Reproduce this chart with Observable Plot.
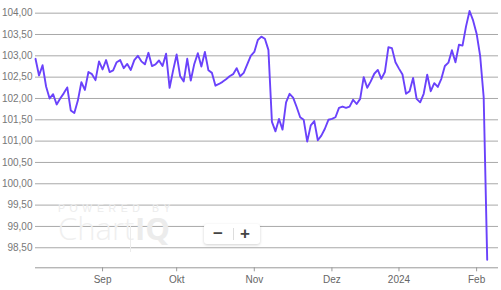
<!DOCTYPE html>
<html>
<head>
<meta charset="utf-8">
<script src="https://cdn.jsdelivr.net/npm/d3@7"></script>
<script src="https://cdn.jsdelivr.net/npm/@observablehq/plot@0.6"></script>
<style>
  html, body { margin: 0; padding: 0; background: #fff; }
  #wrap { position: relative; width: 501px; height: 290px; overflow: hidden; font-family: "Liberation Sans", Arial, sans-serif; }
  #chart { position: absolute; left: 0; top: 0; }
  .wm1 { position: absolute; left: 58px; top: 203px; font-size: 10.5px; line-height: 10px; letter-spacing: 4.6px; color: #ececec; white-space: nowrap; }
  .wm2 { position: absolute; left: 58px; top: 216px; font-size: 31px; line-height: 24px; font-weight: 300; color: #efefef; white-space: nowrap; font-family: "Open Sans", "Liberation Sans", sans-serif; }
  .wmbar { position: absolute; left: 130px; top: 226px; width: 1px; height: 26px; background: #ececec; }
  .wm3 { position: absolute; left: 135px; top: 216px; font-size: 31px; line-height: 24px; font-weight: 700; color: #ececec; white-space: nowrap; font-family: "Open Sans", "Liberation Sans", sans-serif; }
  .zoom { position: absolute; left: 204px; top: 224px; width: 56px; height: 20px; background: #fff; border-radius: 3px; box-shadow: 0 1px 3px rgba(0,0,0,0.18); }
  .zoom span { position: absolute; top: 0; font-size: 17px; font-weight: 700; color: #444; line-height: 20px; }
  .zoom .sep { position: absolute; left: 29px; top: 4px; width: 1px; height: 12px; background: #ddd; }
</style>
</head>
<body>
<div id="wrap">
  <div id="chart"></div>
  <div class="wm1">POWERED BY</div>
  <div class="wm2">Chart</div>
  <div class="wmbar"></div>
  <div class="wm3">IQ</div>
  <div class="zoom"><span style="left:9px">−</span><div class="sep"></div><span style="left:36px">+</span></div>
</div>
<script>
const dates = [
  "2023-08-07","2023-08-08","2023-08-09","2023-08-10","2023-08-11","2023-08-14","2023-08-15","2023-08-16","2023-08-17","2023-08-18",
  "2023-08-21","2023-08-22","2023-08-23","2023-08-24","2023-08-25","2023-08-28","2023-08-29","2023-08-30","2023-08-31",
  "2023-09-01","2023-09-04","2023-09-05","2023-09-06","2023-09-07","2023-09-08","2023-09-11","2023-09-12","2023-09-13","2023-09-14",
  "2023-09-15","2023-09-18","2023-09-19","2023-09-20","2023-09-21","2023-09-22","2023-09-25","2023-09-26","2023-09-27","2023-09-28","2023-09-29",
  "2023-10-02","2023-10-03","2023-10-04","2023-10-05","2023-10-06","2023-10-09","2023-10-10","2023-10-11","2023-10-12","2023-10-13",
  "2023-10-16","2023-10-17","2023-10-18","2023-10-19","2023-10-20","2023-10-23","2023-10-24","2023-10-25","2023-10-26","2023-10-27","2023-10-30","2023-10-31",
  "2023-11-01","2023-11-02","2023-11-03","2023-11-06","2023-11-07","2023-11-08","2023-11-09","2023-11-10","2023-11-13","2023-11-14",
  "2023-11-15","2023-11-16","2023-11-17","2023-11-20","2023-11-21","2023-11-22","2023-11-23","2023-11-24","2023-11-27","2023-11-28","2023-11-29","2023-11-30",
  "2023-12-01","2023-12-04","2023-12-05","2023-12-06","2023-12-07","2023-12-08","2023-12-11","2023-12-12","2023-12-13","2023-12-14",
  "2023-12-15","2023-12-18","2023-12-19","2023-12-20","2023-12-21","2023-12-22","2023-12-27","2023-12-28","2023-12-29",
  "2024-01-02","2024-01-03","2024-01-04","2024-01-05","2024-01-08","2024-01-09","2024-01-10","2024-01-11","2024-01-12","2024-01-15",
  "2024-01-16","2024-01-17","2024-01-18","2024-01-19","2024-01-22","2024-01-23","2024-01-24","2024-01-25","2024-01-26","2024-01-29","2024-01-30","2024-01-31",
  "2024-02-01","2024-02-02","2024-02-05","2024-02-06"
];
const values = [
  102.93,102.54,102.78,102.28,102.00,102.10,101.86,102.00,102.12,102.26,
  101.72,101.66,101.95,102.38,102.20,102.62,102.57,102.43,102.87,102.68,
  102.90,102.62,102.66,102.85,102.90,102.71,102.81,102.67,102.90,103.00,
  102.87,102.80,103.07,102.76,102.80,102.89,102.76,103.05,102.25,102.66,
  103.03,102.52,102.40,102.93,102.42,102.81,103.06,102.75,103.09,102.66,
  102.60,102.30,102.34,102.39,102.45,102.52,102.57,102.71,102.52,102.60,
  102.80,103.00,103.09,103.37,103.45,103.40,103.14,101.45,101.23,101.52,
  101.27,101.91,102.11,102.02,101.80,101.56,101.50,100.99,101.37,101.47,
  101.02,101.13,101.29,101.50,101.52,101.56,101.78,101.81,101.78,101.81,
  101.97,101.87,101.99,102.50,102.25,102.40,102.58,102.67,102.46,102.62,
  103.20,103.18,102.85,102.70,102.56,102.11,102.17,102.48,101.99,101.91,
  102.11,102.56,102.17,102.36,102.27,102.46,102.76,102.84,103.13,102.85,
  103.26,103.24,103.69,104.05,103.83,103.52,103.00,102.03,98.22
];
const monthStarts = ["2023-09-01","2023-10-02","2023-11-01","2023-12-01","2024-01-02","2024-02-01"];
const monthLabels = ["Sep","Okt","Nov","Dez","2024","Feb"];
const yTicks = [98.5, 99, 99.5, 100, 100.5, 101, 101.5, 102, 102.5, 103, 103.5, 104];

const data = dates.map((d, i) => ({i, date: d, v: values[i]}));
const tickIdx = monthStarts.map(d => dates.indexOf(d));
const labelByIdx = new Map(tickIdx.map((t, k) => [t, monthLabels[k]]));
const yMin = 98.03, yMax = 104.297;

const chart = Plot.plot({
  width: 501,
  height: 290,
  marginLeft: 35,
  marginRight: 3,
  marginTop: 0,
  marginBottom: 22.7,
  x: {domain: [0, 131.2], axis: null, label: null},
  y: {domain: [yMin, yMax], axis: null, label: null},
  style: {fontFamily: "'Liberation Sans', Arial, sans-serif", fontSize: "10px", background: "transparent", overflow: "visible"},
  marks: [
    Plot.ruleY(yTicks, {stroke: "#a8a8a8", strokeWidth: 1}),
    Plot.ruleY([yMin], {stroke: "#999", strokeWidth: 1}),
    Plot.axisY({ticks: yTicks, tickFormat: d => d.toFixed(2).replace(".", ","), tickSize: 0, tickPadding: 3, anchor: "left", label: null, fill: "#777", fontSize: 10}),
    Plot.axisX({ticks: tickIdx, tickFormat: d => labelByIdx.get(d), tickSize: 4, tickPadding: 4, label: null, stroke: "#999", fill: "#666", fontSize: 10}),
    Plot.line(data, {x: "i", y: "v", stroke: "#6a42fb", strokeWidth: 1.9, strokeLinejoin: "round"})
  ]
});
document.getElementById("chart").appendChild(chart);
</script>
</body>
</html>
